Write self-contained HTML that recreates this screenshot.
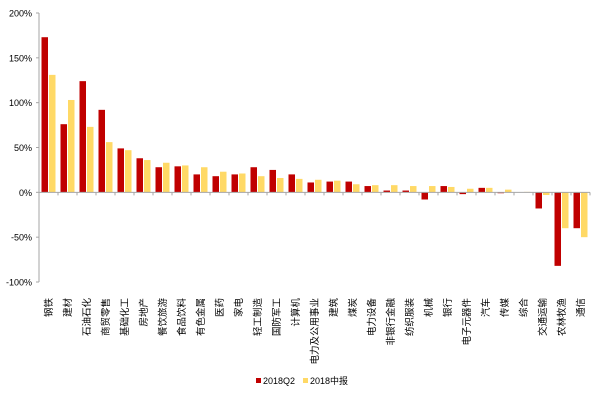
<!DOCTYPE html>
<html><head><meta charset="utf-8"><style>
html,body{margin:0;padding:0;background:#fff;}
svg{display:block;font-family:"Liberation Sans","Noto Sans CJK SC",sans-serif;}
</style></head><body>
<svg id="chart" width="600" height="400" viewBox="0 0 600 400" xmlns="http://www.w3.org/2000/svg"></svg>
<script>
const categories=["钢铁","建材","石油石化","商贸零售","基础化工","房地产","餐饮旅游","食品饮料","有色金属","医药","家电","轻工制造","国防军工","计算机","电力及公用事业","建筑","煤炭","电力设备","非银行金融","纺织服装","机械","银行","电子元器件","汽车","传媒","综合","交通运输","农林牧渔","通信"];
const q2Values=[173,76,124,92,49,38,28,29,20,18,20,28,25,20,11,12,12,7,2,2,-8,7,-2,5,-1,0,-18,-82,-40];
const h1Values=[131,103,73,56,47,36,33,30,28,23,21,18,16,15,14,13,9,8,8,7,7,6,4,5,3,0.5,-3,-40,-50];
const yTicks=[200,150,100,50,0,-50,-100];
const seriesNames=["2018Q2","2018中报"];
const NS="http://www.w3.org/2000/svg";
const svg=document.getElementById('chart');
const x0=39,x1=590,yTop=13,yBot=282,vMax=200,vMin=-100;
const y=v=>yTop+(vMax-v)/(vMax-vMin)*(yBot-yTop);
const step=(x1-x0)/categories.length;
const xc=i=>x0+i*step;
function mk(t,a){const e=document.createElementNS(NS,t);for(const k in a)e.setAttribute(k,a[k]);svg.appendChild(e);return e;}
// y axis
let ax=mk('line',{x1:x0,y1:yTop,x2:x0,y2:yBot,stroke:'#a6a6a6','stroke-width':1});


yTicks.forEach(v=>{
  let tk=mk('line',{x1:x0-3,y1:y(v),x2:x0,y2:y(v),stroke:'#a6a6a6'});
  
  
  let t=mk('text',{x:x0-7,y:y(v)+3.5,'text-anchor':'end','font-size':9,fill:'#000'});
  t.textContent=v+'%';
  
  
});
// bars
const bw=6.5;
categories.forEach((c,i)=>{
  const base=xc(i);
  [[q2Values[i],'#C00000',2.5],[h1Values[i],'#FFD966',10]].forEach(([v,col,off],s)=>{
    const yy=Math.min(y(v),y(0)),h=Math.abs(y(v)-y(0));
    let r=mk('rect',{x:base+off,y:yy,width:bw,height:Math.max(h,0.01),fill:col});
    
    
  });
  let t=mk('text',{transform:`translate(${base+step/2+3.5},298) rotate(-90)`,'text-anchor':'end','font-size':9.5,fill:'#000'});
  t.textContent=c;
  
  
});
// x axis
let xa=mk('line',{x1:x0,y1:y(0),x2:x1,y2:y(0),stroke:'#a6a6a6','stroke-width':1});


for(let i=0;i<=categories.length;i++){
  let tk=mk('line',{x1:xc(i),y1:y(0),x2:xc(i),y2:y(0)+3,stroke:'#a6a6a6'});
  
  
}
// legend
[[256,'#C00000',seriesNames[0]],[303,'#FFD966',seriesNames[1]]].forEach(([lx,col,name])=>{
  let r=mk('rect',{x:lx,y:378,width:5,height:5,fill:col});
  
  
  let t=mk('text',{x:lx+7,y:384,'font-size':9,fill:'#000'});
  t.textContent=name;
  
  
});
</script>
</body></html>
